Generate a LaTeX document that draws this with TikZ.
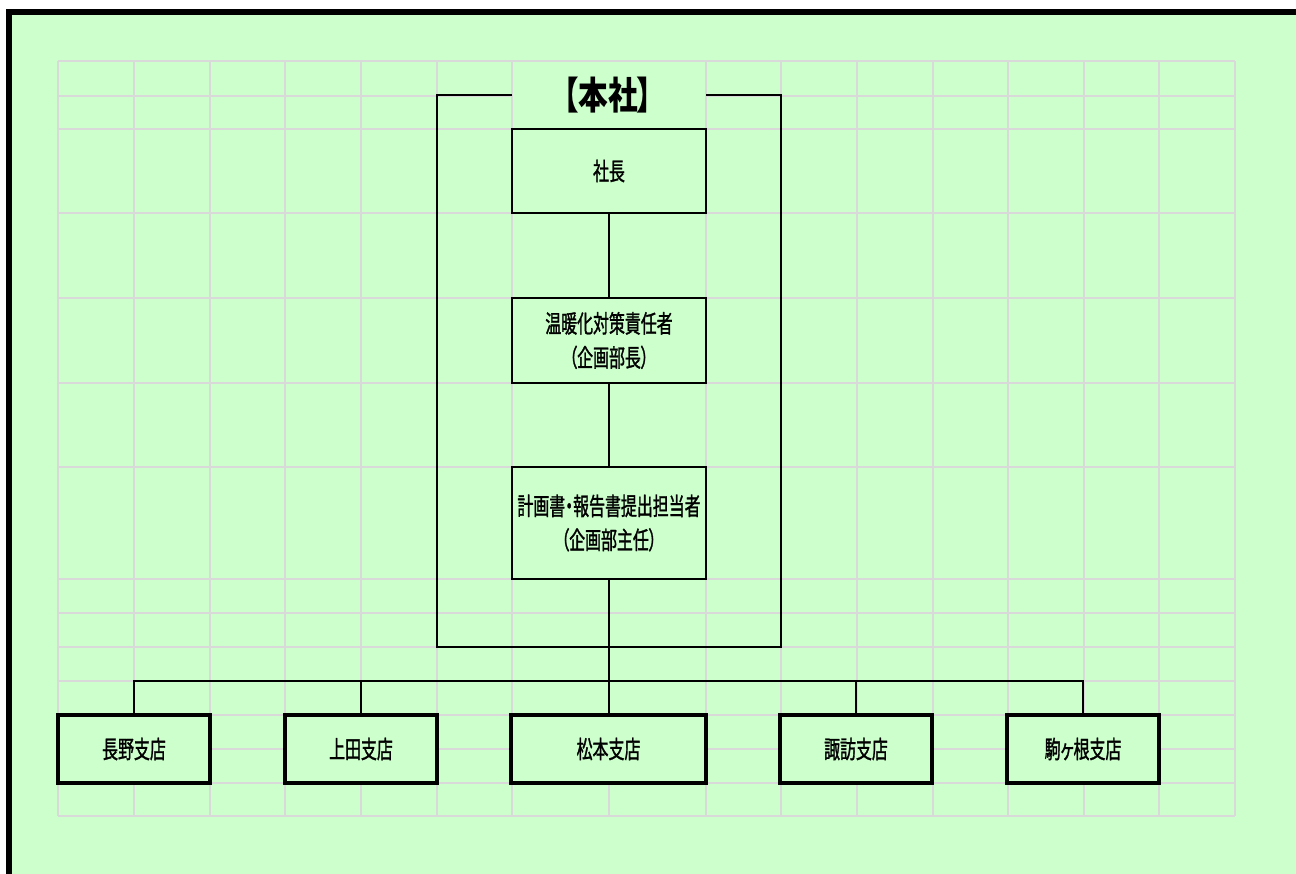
\documentclass[tikz,border=0pt]{standalone}
\usepackage{fontspec}
\newfontfamily\jp[FakeStretch=0.65,FakeBold=1.2,RawFeature=+palt]{Noto Sans CJK JP}
\newfontfamily\jptitle[FakeStretch=0.78,RawFeature=+palt]{Noto Sans CJK JP}
\definecolor{bg}{HTML}{CCFFCC}
\definecolor{gridc}{HTML}{D9D9D9}
\tikzset{
  gridline/.style={draw=gridc, line width=1.4pt},
  hqbox/.style={draw=black, line width=1.4pt, fill=bg, minimum width=194pt, inner sep=0pt, align=center, font=\jp\fontsize{24.5}{34}\selectfont},
  branchbox/.style={draw=black, line width=3.2pt, fill=bg, minimum height=68pt, inner sep=0pt, font=\jp\fontsize{24.5}{34}\selectfont},
  conn/.style={draw=black, line width=1.4pt},
  hqframe/.style={draw=black, line width=2.7pt},
  titletext/.style={inner sep=0pt, font=\jptitle\bfseries\fontsize{38}{40}\selectfont}
}
\begin{document}
\begin{tikzpicture}[x=1pt, y=-1pt]
\useasboundingbox (0,0) rectangle (1296,874);
\fill[white] (0,0) rectangle (1296,874);
\fill[black] (6,9) rectangle (1296,874);
\fill[bg] (12,15) rectangle (1296,874);
% grid
\foreach \x in {58,134,210,285,361,437,512,609,706,781,857,933,1008,1084,1159,1235}
  \draw[gridline] (\x,61) -- (\x,816);
\foreach \y in {61,96,129,213,298,383,467,579,613,647,681,715,749,783,816}
  \draw[gridline] (58,\y) -- (1235,\y);
% merged title cell
\fill[bg] (512.7,61.7) rectangle (705.3,128.3);
% HQ frame
\draw[hqframe] (512,95) -- (437,95) -- (437,647) -- (781,647) -- (781,95) -- (706,95);
\node[titletext] (title) at (608,95) {【本社】};
% HQ boxes
\node[hqbox, minimum height=84pt] (shacho) at (609,171) {社長};
\node[hqbox, minimum height=85pt] (ondan) at (609,340.5) {温暖化対策責任者\\（企画部長）};
\node[hqbox, minimum height=112pt] (keikaku) at (609,523) {計画書・報告書提出担当者\\（企画部主任）};
% branches
\node[branchbox, minimum width=152pt] (nagano) at (134,749) {長野支店};
\node[branchbox, minimum width=152pt] (ueda) at (361,749) {上田支店};
\node[branchbox, minimum width=195pt] (matsumoto) at (608.5,749) {松本支店};
\node[branchbox, minimum width=152pt] (suwa) at (856,749) {諏訪支店};
\node[branchbox, minimum width=152pt] (komagane) at (1083,749) {駒ヶ根支店};
\coordinate (bus) at (0,681);
% connectors
\draw[conn] (shacho.south) -- (ondan.north);
\draw[conn] (ondan.south) -- (keikaku.north);
\draw[conn] (keikaku.south) -- (keikaku.south |- matsumoto.north);
\draw[conn] (nagano.north) -- (nagano.north |- bus) -- (komagane.north |- bus) -- (komagane.north);
\draw[conn] (ueda.north |- bus) -- (ueda.north);
\draw[conn] (suwa.north |- bus) -- (suwa.north);
\end{tikzpicture}
\end{document}
